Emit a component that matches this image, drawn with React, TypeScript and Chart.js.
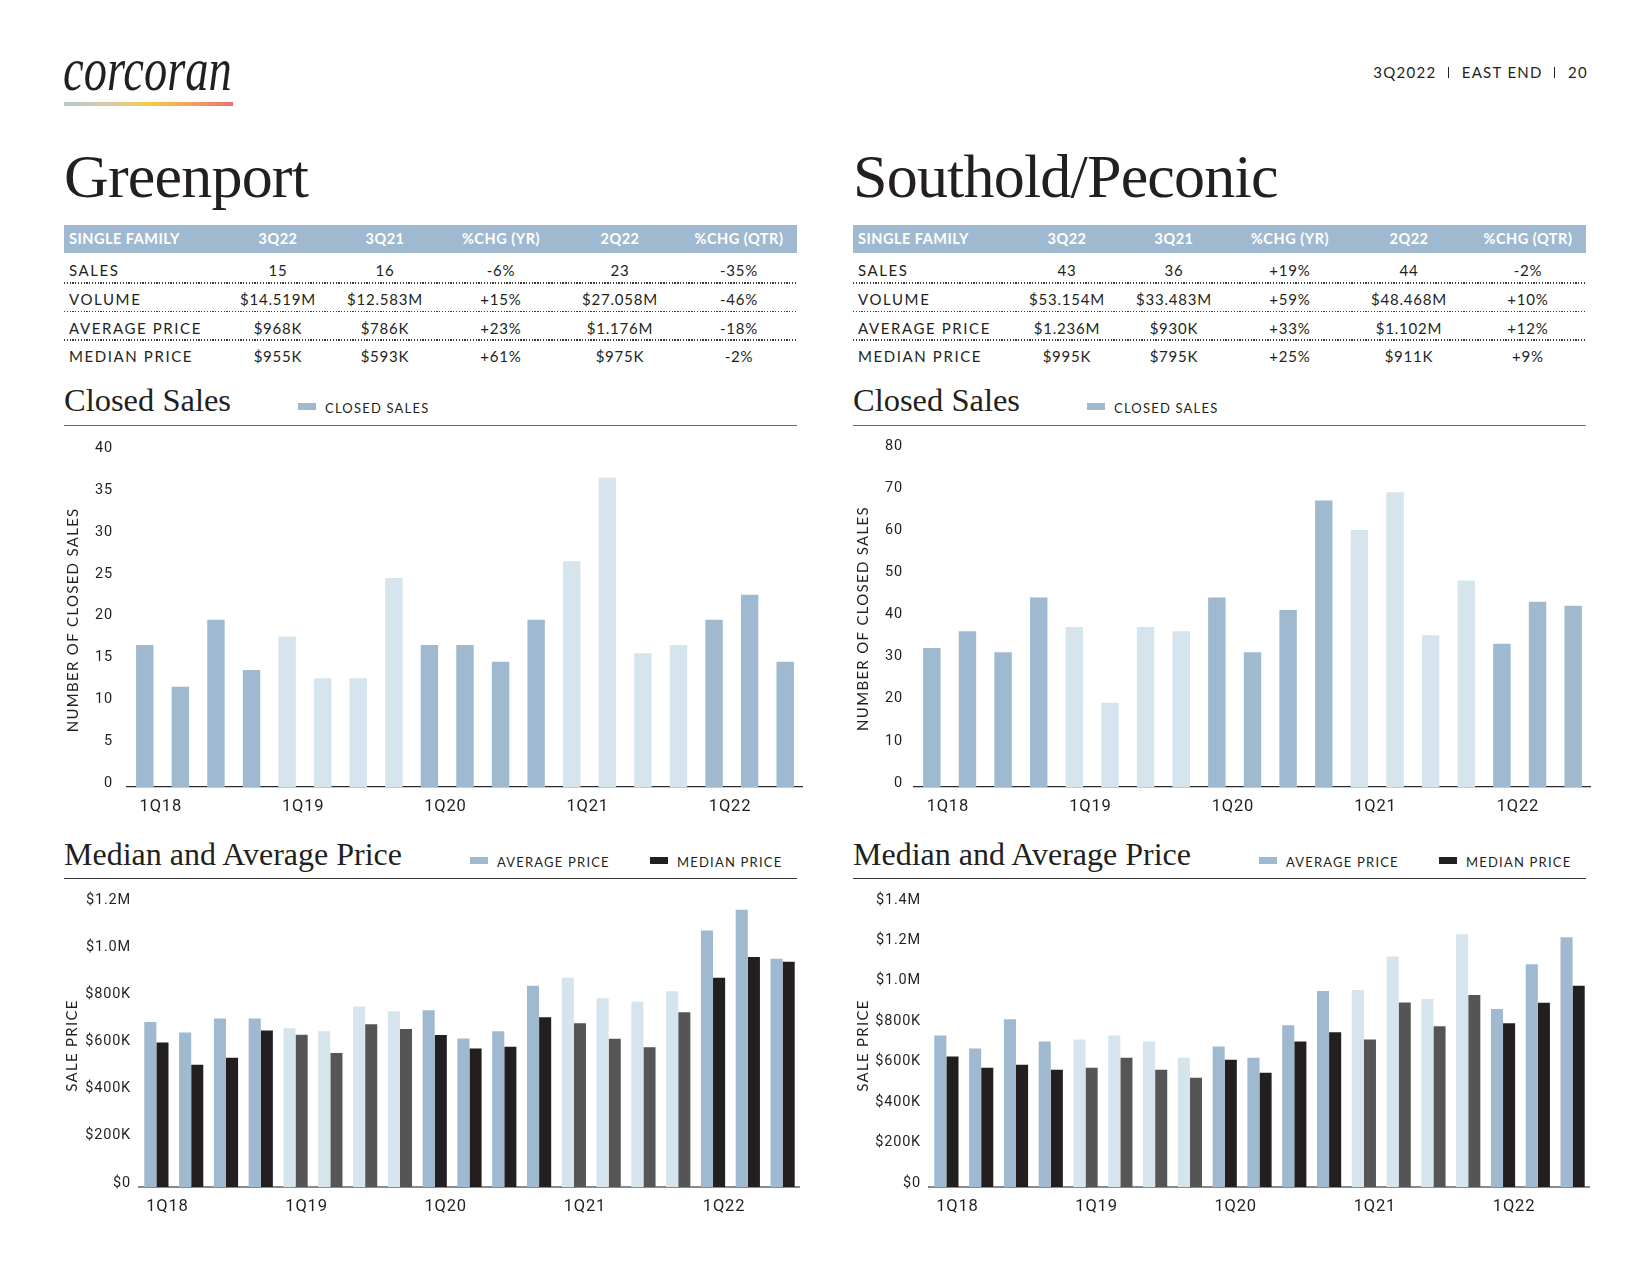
import React, { useEffect, useRef } from 'react';
import { Chart, registerables } from 'chart.js';

Chart.register(...registerables);

// ---------------- data ----------------
const quarters = [
  '1Q18', '2Q18', '3Q18', '4Q18',
  '1Q19', '2Q19', '3Q19', '4Q19',
  '1Q20', '2Q20', '3Q20', '4Q20',
  '1Q21', '2Q21', '3Q21', '4Q21',
  '1Q22', '2Q22', '3Q22',
];
const shownQuarterLabels = ['1Q18', '1Q19', '1Q20', '1Q21', '1Q22'];

const greenportClosedSales = [17, 12, 20, 14, 18, 13, 13, 25, 17, 17, 15, 20, 27, 37, 16, 17, 20, 23, 15];
const southoldClosedSales = [33, 37, 32, 45, 38, 20, 38, 37, 45, 32, 42, 68, 61, 70, 36, 49, 34, 44, 43];

const greenportAveragePrice = [700000, 655000, 715000, 715000, 673000, 660000, 765000, 745000, 750000, 630000, 660000, 853000, 887000, 800000, 786000, 830000, 1088000, 1176000, 968000];
const greenportMedianPrice = [613000, 518000, 548000, 664000, 646000, 568000, 690000, 670000, 644000, 587000, 595000, 720000, 694000, 629000, 593000, 741000, 887000, 975000, 955000];
const southoldAveragePrice = [750000, 685000, 830000, 720000, 730000, 750000, 720000, 640000, 695000, 640000, 800000, 970000, 975000, 1140000, 930000, 1250000, 880000, 1102000, 1236000];
const southoldMedianPrice = [645000, 590000, 605000, 580000, 590000, 640000, 580000, 540000, 630000, 565000, 720000, 765000, 730000, 913000, 795000, 950000, 810000, 911000, 995000];

const greenportClosedAxisMax = 40;
const greenportClosedAxisStep = 5;
const southoldClosedAxisMax = 80;
const southoldClosedAxisStep = 10;
const greenportPriceAxisMax = 1200000;
const southoldPriceAxisMax = 1400000;
const priceAxisStep = 200000;

const tableHeaders = ['SINGLE FAMILY', '3Q22', '3Q21', '%CHG (YR)', '2Q22', '%CHG (QTR)'];
const tableRowLabels = ['SALES', 'VOLUME', 'AVERAGE PRICE', 'MEDIAN PRICE'];

const greenportSalesRow = ['15', '16', '-6%', '23', '-35%'];
const greenportVolumeRow = ['$14.519M', '$12.583M', '+15%', '$27.058M', '-46%'];
const greenportAverageRow = ['$968K', '$786K', '+23%', '$1.176M', '-18%'];
const greenportMedianRow = ['$955K', '$593K', '+61%', '$975K', '-2%'];

const southoldSalesRow = ['43', '36', '+19%', '44', '-2%'];
const southoldVolumeRow = ['$53.154M', '$33.483M', '+59%', '$48.468M', '+10%'];
const southoldAverageRow = ['$1.236M', '$930K', '+33%', '$1.102M', '+12%'];
const southoldMedianRow = ['$995K', '$795K', '+25%', '$911K', '+9%'];

const headerParts = ['3Q2022', 'EAST END', '20'];

// ---------------- style ----------------
const INK = '#231f20';
const BLUE_DARK = '#9fbad0';
const BLUE_LIGHT = '#d6e4ed';
const MEDIAN_DARK = '#231f20';
const MEDIAN_GRAY = '#555555';
const tickFont = 'Roboto, "Liberation Sans", sans-serif';
const labelFont = 'Lato, "Open Sans", sans-serif';
const serifFont = '"Liberation Serif", "DejaVu Serif", serif';

const isEvenYear = (q: string) => parseInt(q.slice(2), 10) % 2 === 0;
const blueShades = quarters.map((q) => (isEvenYear(q) ? BLUE_DARK : BLUE_LIGHT));
const medianShades = quarters.map((q) => (isEvenYear(q) ? MEDIAN_DARK : MEDIAN_GRAY));

const formatPrice = (v: number) =>
  v === 0 ? '$0' : v < 1000000 ? `$${v / 1000}K` : `$${(v / 1000000).toFixed(1)}M`;

const letterSpacingPlugin = {
  id: 'letterSpacingPlugin',
  beforeDraw(chart: any) {
    chart.ctx.letterSpacing = '1.3px';
  },
  beforeDatasetsDraw(chart: any) {
    chart.ctx.letterSpacing = '0px';
  },
  afterDatasetsDraw(chart: any) {
    chart.ctx.letterSpacing = '0.8px';
  },
};

function xScale(labelOffset: number, borderColor: string, borderWidth: number) {
  return {
    type: 'category',
    offset: true,
    grid: { display: false, drawTicks: false },
    border: { display: true, color: borderColor, width: borderWidth },
    ticks: {
      autoSkip: false,
      maxRotation: 0,
      minRotation: 0,
      padding: 10,
      labelOffset,
      color: INK,
      font: { family: tickFont, size: 16.5 },
      z: 1,
      callback: (_v: any, i: number) => (shownQuarterLabels.includes(quarters[i]) ? quarters[i] : ''),
    },
    afterFit: (s: any) => {
      s.height = 40;
    },
  };
}

function yScale(
  max: number,
  step: number,
  axisWidth: number,
  tickPadding: number,
  title: string,
  titlePad: number,
  formatter?: (v: number) => string
) {
  return {
    min: 0,
    max,
    grid: { display: false, drawTicks: false },
    border: { display: false },
    ticks: {
      stepSize: step,
      padding: tickPadding,
      labelOffset: -4,
      color: INK,
      font: { family: tickFont, size: 14.5 },
      z: 1,
      callback: formatter ? (v: any) => formatter(Number(v)) : (v: any) => String(v),
    },
    title: {
      display: true,
      text: title,
      color: INK,
      font: { family: labelFont, size: 15 },
      padding: { top: titlePad, bottom: 0 },
    },
    afterFit: (s: any) => {
      s.width = axisWidth;
    },
  };
}

function closedSalesConfig(values: number[], max: number, step: number, axisWidth: number, tickPadding: number) {
  return {
    type: 'bar',
    data: {
      labels: quarters,
      datasets: [
        {
          label: 'CLOSED SALES',
          data: values,
          backgroundColor: blueShades,
          borderWidth: 0,
          barPercentage: 0.49,
          categoryPercentage: 1,
        },
      ],
    },
    options: {
      responsive: false,
      animation: false,
      events: [],
      layout: { padding: { top: 20, left: 0, right: 0, bottom: 0 } },
      plugins: { legend: { display: false }, tooltip: { enabled: false } },
      scales: {
        x: xScale(16, '#2b2b2b', 1.3),
        y: yScale(max, step, axisWidth, tickPadding, 'NUMBER OF CLOSED SALES', 4),
      },
    },
    plugins: [letterSpacingPlugin],
  };
}

function priceConfig(avg: number[], med: number[], max: number, axisWidth: number, titlePad: number) {
  return {
    type: 'bar',
    data: {
      labels: quarters,
      datasets: [
        {
          label: 'AVERAGE PRICE',
          data: avg,
          backgroundColor: blueShades,
          borderWidth: 0,
          barPercentage: 1,
          categoryPercentage: 0.696,
        },
        {
          label: 'MEDIAN PRICE',
          data: med,
          backgroundColor: medianShades,
          borderWidth: 0,
          barPercentage: 1,
          categoryPercentage: 0.696,
        },
      ],
    },
    options: {
      responsive: false,
      animation: false,
      events: [],
      layout: { padding: { top: 20, left: 0, right: 0, bottom: 0 } },
      plugins: { legend: { display: false }, tooltip: { enabled: false } },
      scales: {
        x: xScale(11, '#8a8a8a', 2),
        y: yScale(max, priceAxisStep, axisWidth, 8, 'SALE PRICE', titlePad, formatPrice),
      },
    },
    plugins: [letterSpacingPlugin],
  };
}

// ---------------- components ----------------
type ChartBoxProps = { left: number; top: number; width: number; height: number; build: () => any };

function ChartBox({ left, top, width, height, build }: ChartBoxProps) {
  const ref = useRef<HTMLCanvasElement | null>(null);
  useEffect(() => {
    if (!ref.current) return;
    const chart = new Chart(ref.current, build());
    return () => chart.destroy();
  }, []);
  return (
    <div style={{ position: 'absolute', left, top, width, height }}>
      <canvas ref={ref} width={width} height={height} style={{ width, height, display: 'block' }} />
    </div>
  );
}

const COL_CENTERS = [214, 321, 437, 556, 675];
const ROW_CENTERS = [270, 299, 328, 356];
const DOT_LINES = [282, 310.5, 339];
const PANEL_WIDTH = 733;

function abs(left: number, top: number, extra: React.CSSProperties = {}): React.CSSProperties {
  return { position: 'absolute', left, top, ...extra };
}

function LegendItem({ x, y, color, text }: { x: number; y: number; color: string; text: string }) {
  return (
    <>
      <div style={abs(x, y - 5, { width: 18, height: 7, background: color })} />
      <div
        style={abs(x + 27, y - 10, {
          height: 20,
          lineHeight: '20px',
          fontFamily: labelFont,
          fontSize: 13,
          letterSpacing: '1.2px',
          color: INK,
          whiteSpace: 'nowrap',
        })}
      >
        {text}
      </div>
    </>
  );
}

function Panel({ x, title, rows }: { x: number; title: string; rows: string[][] }) {
  return (
    <>
      <div
        style={abs(x, 145, {
          fontFamily: serifFont,
          fontSize: 62,
          lineHeight: '62px',
          letterSpacing: '-0.8px',
          color: INK,
          whiteSpace: 'nowrap',
        })}
      >
        {title}
      </div>

      {/* table header band */}
      <div style={abs(x, 225, { width: PANEL_WIDTH, height: 28, background: BLUE_DARK })} />
      {tableHeaders.map((h, i) => {
        const common: React.CSSProperties = {
          height: 28,
          lineHeight: '28px',
          fontFamily: labelFont,
          fontWeight: 700,
          fontSize: 14.5,
          letterSpacing: '0.5px',
          color: '#ffffff',
          whiteSpace: 'nowrap',
        };
        if (i === 0) return <div key={h} style={abs(x + 5, 225, common)}>{h}</div>;
        return (
          <div key={h} style={abs(x + COL_CENTERS[i - 1] - 60, 225, { ...common, width: 120, textAlign: 'center' })}>
            {h}
          </div>
        );
      })}

      {/* rows */}
      {tableRowLabels.map((label, r) => (
        <React.Fragment key={label}>
          <div
            style={abs(x + 5, ROW_CENTERS[r] - 14, {
              height: 28,
              lineHeight: '28px',
              fontFamily: labelFont,
              fontSize: 15,
              letterSpacing: '1.6px',
              color: INK,
              whiteSpace: 'nowrap',
            })}
          >
            {label}
          </div>
          {rows[r].map((v, c) => (
            <div
              key={c}
              style={abs(x + COL_CENTERS[c] - 60, ROW_CENTERS[r] - 14, {
                width: 120,
                textAlign: 'center',
                height: 28,
                lineHeight: '28px',
                fontFamily: labelFont,
                fontSize: 15,
                letterSpacing: '0.8px',
                color: INK,
                whiteSpace: 'nowrap',
              })}
            >
              {v}
            </div>
          ))}
        </React.Fragment>
      ))}
      {DOT_LINES.map((y) => (
        <div
          key={y}
          style={abs(x, y, {
            width: PANEL_WIDTH,
            height: 1.6,
            backgroundImage: 'repeating-linear-gradient(to right, #3a3a3a 0px, #3a3a3a 1.3px, transparent 1.3px, transparent 2.8px)',
          })}
        />
      ))}

      {/* closed sales header */}
      <div
        style={abs(x, 383.5, {
          fontFamily: serifFont,
          fontSize: 32.5,
          lineHeight: '32.5px',
          color: INK,
          whiteSpace: 'nowrap',
        })}
      >
        Closed Sales
      </div>
      <LegendItem x={x + 234} y={408} color={BLUE_DARK} text="CLOSED SALES" />
      <div style={abs(x, 424.5, { width: PANEL_WIDTH, height: 1.5, background: '#6e6e6e' })} />

      {/* price header */}
      <div
        style={abs(x, 838, {
          fontFamily: serifFont,
          fontSize: 32,
          lineHeight: '32px',
          color: INK,
          whiteSpace: 'nowrap',
        })}
      >
        Median and Average Price
      </div>
      <LegendItem x={x + 406} y={862} color={BLUE_DARK} text="AVERAGE PRICE" />
      <LegendItem x={x + 586} y={862} color={MEDIAN_DARK} text="MEDIAN PRICE" />
      <div style={abs(x, 877.5, { width: PANEL_WIDTH, height: 1.5, background: '#333333' })} />
    </>
  );
}

export default function App() {
  return (
    <div
      style={{
        position: 'absolute',
        left: 0,
        top: 0,
        width: 1650,
        height: 1275,
        background: '#ffffff',
        overflow: 'hidden',
        fontFamily: labelFont,
      }}
    >
      {/* logo */}
      <div
        style={abs(63, 38, {
          fontFamily: serifFont,
          fontStyle: 'italic',
          fontSize: 62,
          lineHeight: '62px',
          color: INK,
          transform: 'scaleX(0.75)',
          transformOrigin: 'left top',
          whiteSpace: 'nowrap',
        })}
      >
        corcoran
      </div>
      <div
        style={abs(64, 102, {
          width: 169,
          height: 4,
          background: 'linear-gradient(to right, #b8c6d3 0%, #d8cb9c 28%, #f6c948 50%, #f3a25c 75%, #ee6d74 100%)',
        })}
      />
      <div
        style={{
          position: 'absolute',
          right: 1650 - 1588,
          top: 62,
          height: 20,
          lineHeight: '20px',
          fontFamily: labelFont,
          fontSize: 15,
          letterSpacing: '1.3px',
          color: INK,
          whiteSpace: 'nowrap',
          display: 'flex',
          alignItems: 'center',
        }}
      >
        {headerParts.map((p, i) => (
          <React.Fragment key={p}>
            {i > 0 && (
              <span
                style={{
                  display: 'inline-block',
                  width: 1.2,
                  height: 11,
                  background: INK,
                  margin: '0 13px 0 11px',
                }}
              />
            )}
            <span>{p}</span>
          </React.Fragment>
        ))}
      </div>

      <Panel
        x={64}
        title="Greenport"
        rows={[greenportSalesRow, greenportVolumeRow, greenportAverageRow, greenportMedianRow]}
      />
      <Panel
        x={853}
        title="Southold/Peconic"
        rows={[southoldSalesRow, southoldVolumeRow, southoldAverageRow, southoldMedianRow]}
      />

      <ChartBox
        left={60}
        top={430}
        width={743}
        height={397}
        build={() => closedSalesConfig(greenportClosedSales, greenportClosedAxisMax, greenportClosedAxisStep, 67, 14)}
      />
      <ChartBox
        left={850}
        top={430}
        width={741}
        height={397}
        build={() => closedSalesConfig(southoldClosedSales, southoldClosedAxisMax, southoldClosedAxisStep, 64, 11)}
      />
      <ChartBox
        left={60}
        top={884}
        width={740}
        height={343}
        build={() => priceConfig(greenportAveragePrice, greenportMedianPrice, greenportPriceAxisMax, 79, 3)}
      />
      <ChartBox
        left={850}
        top={884}
        width={740}
        height={343}
        build={() => priceConfig(southoldAveragePrice, southoldMedianPrice, southoldPriceAxisMax, 79, 4)}
      />
    </div>
  );
}
